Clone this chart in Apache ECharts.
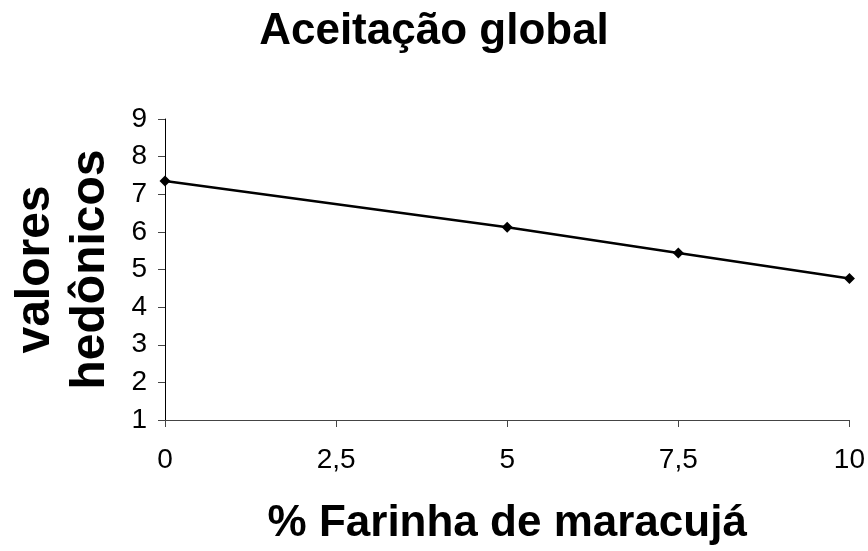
<!DOCTYPE html>
<html>
<head>
<meta charset="utf-8">
<title>Aceitação global</title>
<script src="https://cdn.jsdelivr.net/npm/echarts@6/dist/echarts.min.js"></script>
<style>
	html, body { margin: 0; padding: 0; background: #fff; }
	#main { width: 868px; height: 551px; }
</style>
</head>
<body>
<div id="main"></div>
<script>
// dados
var farinha = [0, 5, 7.5, 10];
var valores = [7.35, 6.12, 5.44, 4.76];
var xTicks = [0, 2.5, 5, 7.5, 10];
var yTicks = [1, 2, 3, 4, 5, 6, 7, 8, 9];

var pontos = [];
for (var i = 0; i < farinha.length; i++) {
	pontos.push([farinha[i], valores[i]]);
}

var fonte = '"Liberation Sans", Arial, sans-serif';

var myChart = echarts.init(document.getElementById('main'));
var option = {
	backgroundColor: '#fff',
	animation: false,
	title: {
		text: 'Aceitação global',
		left: 'center',
		top: 5,
		textStyle: {
			fontFamily: fonte,
			fontWeight: 'bold',
			fontSize: 44,
			color: '#000'
		}
	},
	grid: {
		left: 162,
		right: 17,
		top: 119,
		bottom: 130
	},
	xAxis: {
		type: 'value',
		min: xTicks[0],
		max: xTicks[xTicks.length - 1],
		interval: 2.5,
		name: '% Farinha de maracujá',
		nameLocation: 'middle',
		nameGap: 82,
		nameTextStyle: {
			fontFamily: fonte,
			fontWeight: 'bold',
			fontSize: 44,
			color: '#000'
		},
		splitLine: { show: false },
		axisLine: { lineStyle: { color: '#444', width: 1 } },
		axisTick: { length: 7, lineStyle: { color: '#444' } },
		axisLabel: {
			margin: 26,
			fontFamily: fonte,
			fontSize: 28,
			color: '#000',
			formatter: function (v) {
				return String(v).replace('.', ',');
			}
		}
	},
	yAxis: {
		type: 'value',
		min: yTicks[0],
		max: yTicks[yTicks.length - 1],
		interval: 1,
		name: 'valores\nhedônicos',
		nameLocation: 'middle',
		nameGap: 47,
		nameTextStyle: {
			fontFamily: fonte,
			fontWeight: 'bold',
			fontSize: 48,
			lineHeight: 55,
			color: '#000'
		},
		splitLine: { show: false },
		axisLine: { show: true, lineStyle: { color: '#000', width: 1 } },
		axisTick: { show: true, length: 7, lineStyle: { color: '#444' } },
		axisLabel: {
			margin: 18,
			fontFamily: fonte,
			fontSize: 28,
			color: '#000'
		}
	},
	series: [{
		type: 'line',
		data: pontos,
		symbol: 'diamond',
		symbolSize: 11,
		lineStyle: { color: '#000', width: 2.5 },
		itemStyle: { color: '#000' }
	}]
};
myChart.setOption(option);
</script>
</body>
</html>
